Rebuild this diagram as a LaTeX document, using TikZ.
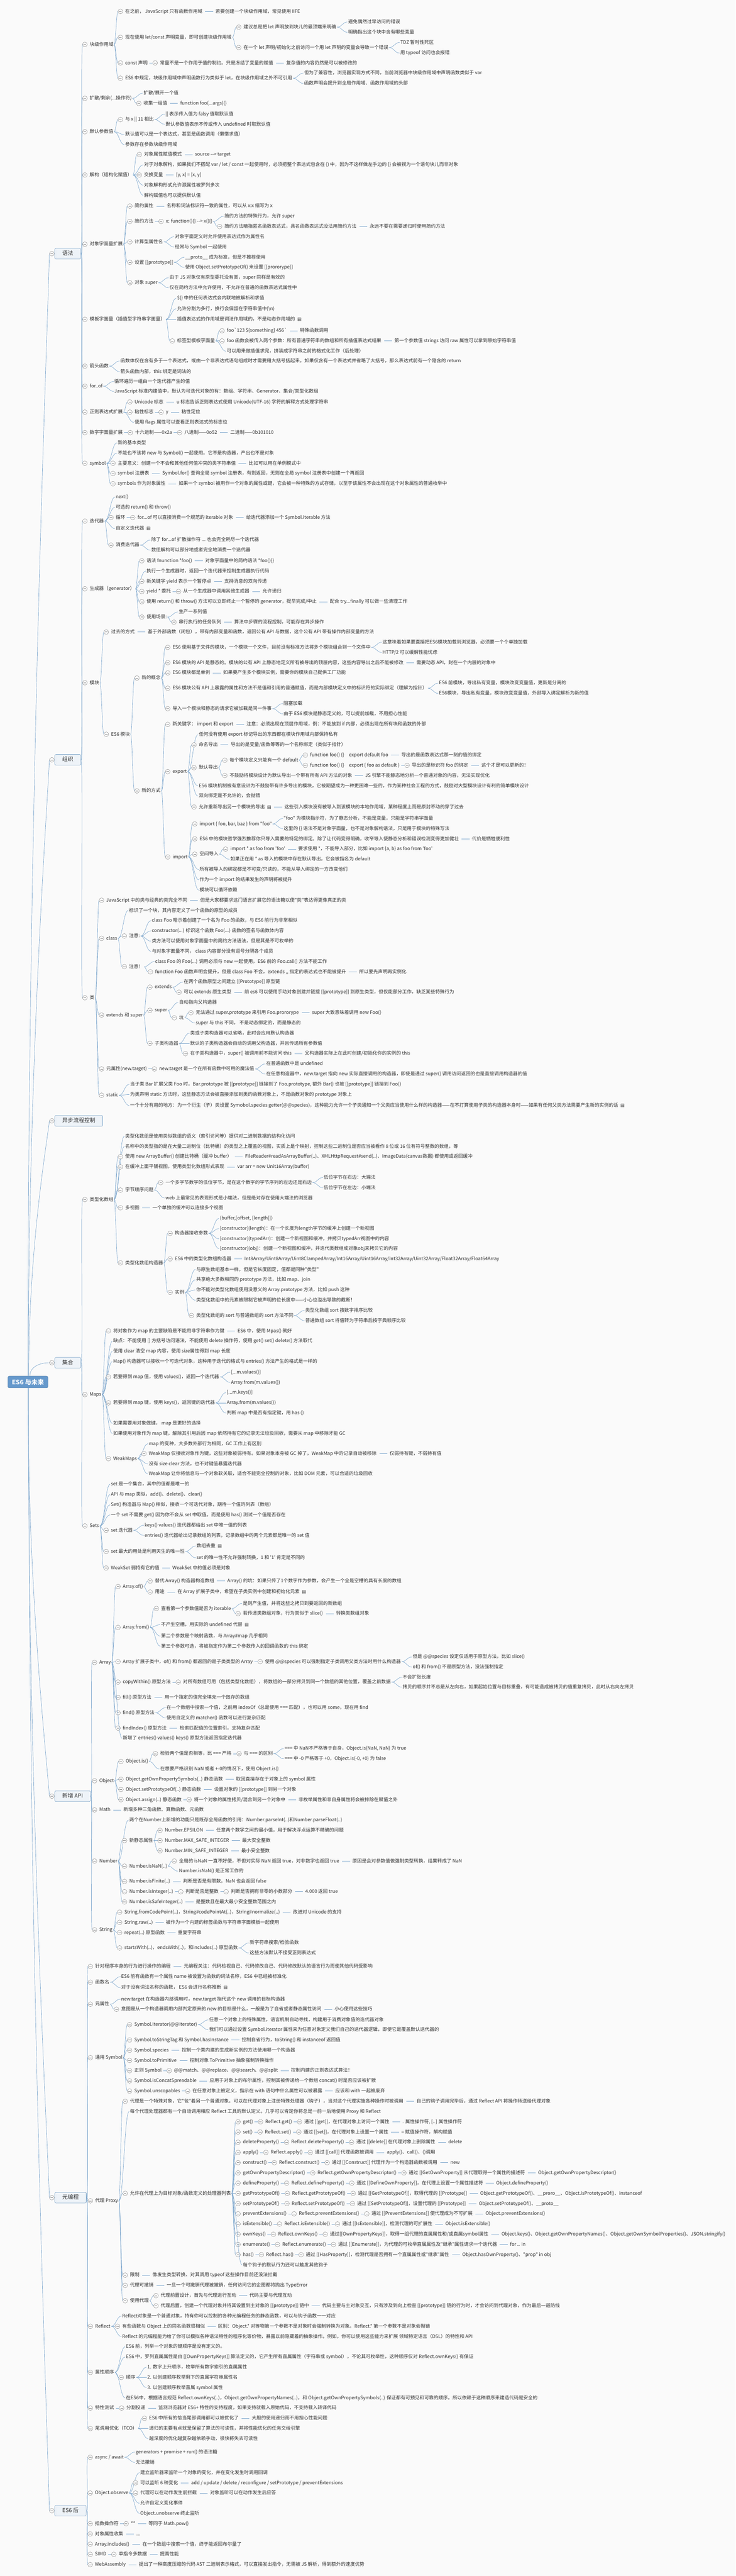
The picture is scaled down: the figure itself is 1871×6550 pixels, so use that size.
\documentclass[tikz,border=0pt]{standalone}
\usepackage{fontspec}
\newfontfamily\cjk{Noto Sans CJK SC}
\newfontfamily\symf{DejaVu Sans}
\definecolor{bgc}{HTML}{FAFAFA}
\definecolor{txtc}{HTML}{303030}
\definecolor{linec}{HTML}{82AACF}
\definecolor{circc}{HTML}{8C8C8C}
\definecolor{lonefill}{HTML}{EEF3F8}
\definecolor{lonebord}{HTML}{7FA6C9}
\definecolor{rootc}{HTML}{6699CC}
\tikzset{
 tx/.style={anchor=west, inner xsep=1pt, inner ysep=0pt, text height=10pt, text depth=2.5pt, font=\cjk\fontsize{12}{14}\selectfont, text=txtc},
 cc/.style={circle, draw=circc, fill=white, minimum size=12pt, inner sep=0pt, line width=0.7pt},
 cs/.style={draw=circc, line width=0.7pt},
 cn/.style={draw=linec, line width=0.9pt},
 lone/.style={anchor=west, draw=lonebord, fill=lonefill, rounded corners=3pt, line width=0.9pt, inner xsep=19pt, inner ysep=0pt, minimum height=27pt, text height=11pt, text depth=3pt, font=\cjk\fontsize{14}{16}\selectfont, text=txtc},
 rootbox/.style={draw=rootc!85!black, fill=rootc, rounded corners=4pt, text=white, font=\cjk\fontsize{16}{18}\selectfont\bfseries, minimum width=102pt, minimum height=30pt, inner sep=0pt, line width=0.8pt}
}
\newcommand\nt{\hspace{6pt}{\symf\fontsize{11}{11}\selectfont ▤}}
\newcommand\Mn[1]{\draw[cs] ([xshift=-3.2pt]#1.center) -- ([xshift=3.2pt]#1.center);}
\newcommand\Kl[5][28]{\node[tx,xshift=#1pt] (#3) at (#2.east |- 0,#4) {#5};
 \draw[cn] ([xshift=1pt]#2.east) .. controls +(12pt,0) and +(-12pt,0) .. ([xshift=-1pt]#3.west);}
\newcommand\Ko[5][28]{\node[tx,xshift=#1pt] (#3) at (#2.east |- 0,#4) {#5};
 \node[cc] (#3o) at ([xshift=-11pt]#3.west) {}; \Mn{#3o}
 \draw[cn] ([xshift=1pt]#2.east) .. controls +(4pt,0) and +(-4pt,0) .. (#3o.west);}
\newcommand\Il[3]{\node[tx,xshift=31pt] (#2) at (#1.east) {#3};
 \draw[cn] ([xshift=6pt]#1.east) -- ([xshift=-5pt]#2.west);}
\newcommand\Io[3]{\node[tx,xshift=29pt] (#2) at (#1.east) {#3};
 \node[cc] (#2o) at ([xshift=-11pt]#2.west) {}; \Mn{#2o}
 \draw[cn] ([xshift=3pt]#1.east) -- (#2o.west);}
\newcommand\Prow[6]{\Ko{px}{#1}{#2}{#3}\Io{#1}{#1r}{#4}\Io{#1r}{#1v}{#5}\Il{#1v}{#1p}{#6}}
\newcommand\Lone[3]{\node[lone] (#1) at (139,#2) {#3}; \node[cc] (#1o) at (132,#2) {}; \Mn{#1o}}
\begin{document}
\begin{tikzpicture}[x=1pt,y=-1pt]
\fill[bgc] (0,0) rectangle (1871,6550);
\useasboundingbox (0,0) rectangle (1871,6550);
% root and main branches
\node[rootbox] (root) at (71,3514) {ES6 与未来};
\Lone{A}{645}{语法}
\Lone{B}{1932}{组织}
\Lone{C}{2850}{异步流程控制}
\Lone{D}{3465}{集合}
\Lone{E}{4567}{新增 API}
\Lone{F}{5588}{元编程}
\Lone{G}{6384}{ES6 后}
\draw[cn] (root.north -| 71,0) .. controls (71,2072) and (118,930) .. (Ao.west);
\draw[cn] (root.north -| 72,0) .. controls (72,2715) and (118,2089) .. (Bo.west);
\draw[cn] (root.north -| 73,0) .. controls (73,3174) and (118,2915) .. (Co.west);
\draw[cn] (root.north -| 76,0) .. controls (76,3476) and (100,3465) .. (Do.west);
\draw[cn] (root.south -| 71,0) .. controls (71,4048) and (118,4463) .. (Eo.west);
\draw[cn] (root.south -| 72,0) .. controls (72,4558) and (118,5382) .. (Fo.west);
\draw[cn] (root.south -| 73,0) .. controls (73,4956) and (118,6098) .. (Go.west);
% ===== A 语法
\Ko[21]{A}{a1}{113}{块级作用域}
\Ko{a1}{a1a}{29}{在之前， JavaScript 只有函数作用域}
\Il{a1a}{a1a1}{若要创建一个块级作用域，常见使用 IIFE}
\Ko{a1}{a1b}{95}{现在使用 let/const 声明变量，即可创建块级作用域}
\Ko{a1b}{a1b1}{69}{建议总是把 let 声明放到块儿的最顶端来明确}
\Kl{a1b1}{a1b1a}{56}{避免偶然过早访问的错误}
\Kl{a1b1}{a1b1b}{82}{明确指出这个块中含有哪些变量}
\Ko{a1b}{a1b2}{121}{在一个 let 声明/初始化之前访问一个用 let 声明的变量会导致一个错误}
\Kl{a1b2}{a1b2a}{108}{TDZ 暂时性死区}
\Kl{a1b2}{a1b2b}{135}{用 typeof 访问也会报错}
\Ko{a1}{a1c}{160}{const 声明}
\Io{a1c}{a1c1}{常量不是一个作用于值的制约。只是冻结了变量的赋值}
\Il{a1c1}{a1c2}{复杂值的内容仍然是可以被修改的}
\Ko{a1}{a1d}{199}{ES6 中规定，块级作用域中声明函数行为类似于 let，在块级作用域之外不可引用}
\Kl{a1d}{a1d1}{186}{但为了兼容性，浏览器实现方式不同，当前浏览器中块级作用域中声明函数类似于 var}
\Kl{a1d}{a1d2}{212}{函数声明会提升到全局作用域、函数作用域的头部}
\Ko[21]{A}{a2}{250}{扩散/剩余(...操作符)}
\Kl{a2}{a2a}{237}{扩散/展开一个值}
\Ko{a2}{a2b}{263}{收集一组值}
\Il{a2b}{a2b1}{function foo(...args)\{\}}
\Ko[21]{A}{a3}{335}{默认参数值}
\Ko{a3}{a3a}{304}{与 x || 11 相比}
\Kl{a3a}{a3a1}{290}{|| 表示传入值为 falsy 值取默认值}
\Kl{a3a}{a3a2}{316}{默认参数值表示不传或传入 undefined 时取默认值}
\Kl{a3}{a3b}{342}{默认值可以是一个表达式，甚至是函数调用（懒惰求值）}
\Kl{a3}{a3c}{368}{参数存在参数块级作用域}
\Ko[21]{A}{a4}{445}{解构（结构化赋值）}
\Ko{a4}{a4a}{393}{对象属性赋值模式}
\Il{a4a}{a4a1}{source --> target}
\Kl{a4}{a4b}{419}{对于对象解构，如果我们不搭配 var / let / const 一起使用时，必须把整个表达式包含在 () 中，因为不这样做左手边的 \{\} 会被视为一个语句块儿而非对象}
\Ko{a4}{a4c}{445}{交换变量}
\Il{a4c}{a4c1}{[y, x] = [x, y]}
\Kl{a4}{a4d}{471}{对象解构形式允许源属性被罗列多次}
\Kl{a4}{a4e}{497}{解构赋值也可以提供默认值}
\Ko[21]{A}{a5}{621}{对象字面量扩展}
\Ko{a5}{a5a}{524}{简约属性}
\Il{a5a}{a5a1}{名称和词法标识符一致的属性，可以从 x:x 缩写为 x}
\Ko{a5}{a5b}{563}{简约方法}
\Io{a5b}{a5b1}{x: function()\{\} --> x()\{\}}
\Kl{a5b1}{a5b1a}{550}{简约方法的特殊行为，允许 super}
\Ko{a5b1}{a5b1b}{576}{简约方法暗指匿名函数表达式，具名函数表达式没法用简约方法}
\Il{a5b1b}{a5b1c}{永远不要在需要递归时使用简约方法}
\Ko{a5}{a5c}{615}{计算型属性名}
\Kl{a5c}{a5c1}{602}{对象字面定义时允许使用表达式作为属性名}
\Kl{a5c}{a5c2}{628}{经常与 Symbol 一起使用}
\Ko{a5}{a5d}{667}{设置 [[prototype]]}
\Kl{a5d}{a5d1}{654}{\_\_proto\_\_ 成为标准，但是不推荐使用}
\Kl{a5d}{a5d2}{680}{使用 Object.setPrototypeOf() 来设置 [[prororype]]}
\Ko{a5}{a5e}{719}{对象 super}
\Kl{a5e}{a5e1}{706}{由于 JS 对象仅有原型委托没有类，super 同样是有效的}
\Kl{a5e}{a5e2}{732}{仅在简约方法中允许使用，不允许在普通的函数表达式属性中}
\Ko[21]{A}{a6}{812}{模板字面量（插值型字符串字面量）}
\Kl{a6}{a6a}{758}{\$\{\} 中的任何表达式会内联地被解析和求值}
\Kl{a6}{a6b}{785}{允许分割为多行，换行会保留在字符串值中(\textbackslash n)}
\Kl{a6}{a6c}{812}{插值表达式的作用域是词法作用域的，不是动态作用域的\nt}
\Ko{a6}{a6d}{867}{标签型模板字面量}
\Ko{a6d}{a6d1}{841}{foo`123 \$\{something\} 456`}
\Il{a6d1}{a6d1a}{特殊函数调用}
\Ko{a6d}{a6d2}{867}{foo 函数会被传入两个参数：所有普通字符串的数组和所有插值表达式结果}
\Il{a6d2}{a6d2a}{第一个参数值 strings 访问 raw 属性可以拿到原始字符串值}
\Kl{a6d}{a6d3}{893}{可以用来做插值求完，拼装成字符串之前的格式化工作（后处理）}
\Ko[21]{A}{a7}{931}{箭头函数}
\Kl{a7}{a7a}{918}{函数体仅在含有多于一个表达式，或由一个非表达式语句组成时才需要用大括号括起来。如果仅含有一个表达式并省略了大括号，那么表达式前有一个隐含的 return}
\Kl{a7}{a7b}{945}{箭头函数内部，this 绑定是词法的}
\Ko[21]{A}{a8}{982}{for..of}
\Kl{a8}{a8a}{970}{循环遍历一组由一个迭代器产生的值}
\Kl{a8}{a8b}{995}{JavaScript 标准内建值中，默认为可迭代对象的有：数组、字符串、Generator、集合/类型化数组}
\Ko[21]{A}{a9}{1048}{正则表达式扩展}
\Ko{a9}{a9a}{1022}{Unicode 标志}
\Il{a9a}{a9a1}{u 标志告诉正则表达式使用 Unicode(UTF-16) 字符的解释方式处理字符串}
\Ko{a9}{a9b}{1048}{粘性标志}
\Io{a9b}{a9b1}{y}
\Il{a9b1}{a9b2}{粘性定位}
\Kl{a9}{a9c}{1074}{使用 flags 属性可以查看正则表达式的标志位}
\Ko[21]{A}{a10}{1100}{数字字面量扩展}
\Io{a10}{a10a}{十六进制——0x2a}
\Io{a10a}{a10b}{八进制——0o52}
\Il{a10b}{a10c}{二进制——0b101010}
\Ko[21]{A}{a11}{1178}{symbol}
\Kl{a11}{a11a}{1126}{新的基本类型}
\Kl{a11}{a11b}{1152}{不能也不该将 new 与 Symbol() 一起使用。它不是构造器，产出也不是对象}
\Ko{a11}{a11c}{1178}{主要意义：创建一个不会和其他任何值冲突的类字符串值}
\Il{a11c}{a11c1}{比如可以用在单例模式中}
\Ko{a11}{a11d}{1204}{symbol 注册表}
\Il{a11d}{a11d1}{Symbol.for() 查询全局 symbol 注册表，有则返回，无则在全局 symbol 注册表中创建一个再返回}
\Ko{a11}{a11e}{1230}{symbols 作为对象属性}
\Il{a11e}{a11e1}{如果一个 symbol 被用作一个对象的属性或键，它会被一种特殊的方式存储，以至于该属性不会出现在这个对象属性的普通枚举中}
% ===== B 组织
\Ko[21]{B}{b1}{1325}{迭代器}
\Kl{b1}{b1a}{1264}{next()}
\Kl{b1}{b1b}{1290}{可选的 return() 和 throw()}
\Ko{b1}{b1c}{1316}{循环}
\Io{b1c}{b1c1}{for...of 可以直接消费一个规范的 iterable 对象}
\Il{b1c1}{b1c2}{给迭代器添加一个 Symbol.iterable 方法}
\Kl{b1}{b1d}{1344}{自定义迭代器\nt}
\Ko{b1}{b1e}{1386}{消费迭代器}
\Kl{b1e}{b1e1}{1373}{除了 for...of 扩散操作符 ... 也会完全耗尽一个迭代器}
\Kl{b1e}{b1e2}{1399}{数组解构可以部分地或者完全地消费一个迭代器}
\Ko[21]{B}{b2}{1497}{生成器（generator）}
\Ko{b2}{b2a}{1426}{语法 fnunction *foo()}
\Il{b2a}{b2a1}{对象字面量中的简约语法 *foo()\{\}}
\Kl{b2}{b2b}{1452}{执行一个生成器时，返回一个迭代器来控制生成器执行代码}
\Ko{b2}{b2c}{1478}{新关键字 yield 表示一个暂停点}
\Il{b2c}{b2c1}{支持消息的双向传递}
\Ko{b2}{b2d}{1504}{yield * 委托}
\Io{b2d}{b2d1}{从一个生成器中调用其他生成器}
\Il{b2d1}{b2d2}{允许递归}
\Ko{b2}{b2e}{1530}{使用 return() 和 throw() 方法可以立即终止一个暂停的 generator，提早完成/中止}
\Il{b2e}{b2e1}{配合 try...finally 可以做一些清理工作}
\Ko{b2}{b2f}{1569}{使用场景:}
\Kl{b2f}{b2f1}{1556}{生产一系列值}
\Ko{b2f}{b2f2}{1582}{串行执行的任务队列}
\Il{b2f2}{b2f3}{算法中步骤的流程控制，可能存在异步操作}
\Ko[21]{B}{b3}{1736}{模块}
\Ko{b3}{b3a}{1607}{过去的方式}
\Il{b3a}{b3a1}{基于外部函数（闭包），带有内部变量和函数，返回公有 API 与数据，这个公有 API 带有操作内部变量的方法}
\Ko{b3}{b3b}{1867}{ES6 模块}
\Ko{b3b}{n1}{1724}{新的概念}
\Ko{n1}{n1a}{1646}{ES6 使用基于文件的模块，一个模块一个文件，目前没有标准方法将多个模块组合到一个文件中}
\Kl{n1a}{n1a1}{1633}{这意味着如果要直接把ES6模块加载到浏览器，必须要一个个单独加载}
\Kl{n1a}{n1a2}{1659}{HTTP/2 可以缓解性能忧虑}
\Ko{n1}{n1b}{1685}{ES6 模块的 API 是静态的。模块的公有 API 上静态地定义所有被导出的顶层内容，这些内容导出之后不能被修改}
\Il{n1b}{n1b1}{需要动态 API，封在一个内层的对象中}
\Ko{n1}{n1c}{1711}{ES6 模块都是单例}
\Il{n1c}{n1c1}{如果要产生多个模块实例，需要你的模块自己提供工厂功能}
\Ko{n1}{n1d}{1750}{ES6 模块公有 API 上暴露的属性和方法不是值和引用的普通赋值，而是内部模块定义中的标识符的实际绑定（理解为指针）}
\Kl{n1d}{n1d1}{1737}{ES6 前模块，导出私有变量，模块改变变量值，更新是分离的}
\Kl{n1d}{n1d2}{1763}{ES6模块，导出私有变量，模块改变变量值，外部导入绑定解析为新的值}
\Ko{n1}{n1e}{1802}{导入一个模块和静态的请求它被加载是同一件事}
\Kl{n1e}{n1e1}{1789}{阻塞加载}
\Kl{n1e}{n1e2}{1815}{由于 ES6 模块是静态定义的，可以提前加载，不用担心性能}
\Ko{b3b}{n2}{2011}{新的方式}
\Ko{n2}{n2a}{1842}{新关键字： import 和 export}
\Il{n2a}{n2a1}{注意：必须出现在顶层作用域，例：不能放到 if 内部，必须出现在所有块和函数的外部}
\Ko{n2}{ex}{1962}{export}
\Kl{ex}{ex1}{1868}{任何没有使用 export 标记导出的东西都在模块作用域内部保持私有}
\Ko{ex}{ex2}{1894}{命名导出}
\Il{ex2}{ex2a}{导出的是变量/函数等等的一个名称绑定（类似于指针）}
\Ko{ex}{ex3}{1952}{默认导出}
\Ko{ex3}{ex3a}{1933}{每个模块定义只能有一个 default}
\Ko{ex3a}{ex3a1}{1920}{function foo() \{\}\quad export default foo}
\Il{ex3a1}{ex3a2}{导出的是函数表达式那一刻的值的绑定}
\Ko{ex3a}{ex3a3}{1946}{function foo() \{\}\quad export \{ foo as default \}}
\Io{ex3a3}{ex3a4}{导出的是标识符 foo 的绑定}
\Il{ex3a4}{ex3a5}{这个才是可以更新的！}
\Ko{ex3}{ex3b}{1972}{不鼓励将模块设计为默认导出一个带有所有 API 方法的对象}
\Il{ex3b}{ex3b1}{JS 引擎不能静态地分析一个普通对象的内容，无法实现优化}
\Kl{ex}{ex4}{1998}{ES6 模块机制被有意设计为不鼓励带有许多导出的模块，它被期望成为一种更困难一些的，作为某种社会工程的方式，鼓励对大型模块设计有利的简单模块设计}
\Kl{ex}{ex5}{2024}{双向绑定是不允许的，会抛错}
\Ko{ex}{ex6}{2052}{允许重新导出另一个模块的导出\nt}
\Il{ex6}{ex6a}{这些引入模块没有被导入到该模块的本地作用域，某种程度上而是原封不动的穿了过去}
\Ko{n2}{im}{2179}{import}
\Ko{im}{im1}{2095}{import \{ foo, bar, baz \} from "foo"}
\Kl{im1}{im1a}{2081}{"foo" 为模块指示符，为了静态分析，不能是变量，只能是字符串字面量}
\Kl{im1}{im1b}{2107}{这里的 \{\} 语法不是对象字面量，也不是对象解构语法，只是用于模块的特殊写法}
\Ko{im}{im2}{2133}{ES6 中的模块哲学强烈推荐你只导入需要的特定的绑定。除了让代码变得明确，收窄导入使静态分析和错误检测变得更加健壮}
\Il{im2}{im2a}{代价是牺牲便利性}
\Ko{im}{im3}{2172}{空间导入}
\Ko{im3}{im3a}{2159}{import * as foo from 'foo'}
\Il{im3a}{im3a1}{要求使用 *，不能导入部分，比如 import \{a, b\} as foo from 'foo'}
\Kl{im3}{im3b}{2185}{如果正在用 * as 导入的模块中存在默认导出，它会被指名为 default}
\Kl{im}{im4}{2211}{所有被导入的绑定都是不可变/只读的，不能从导入绑定的一方改变他们}
\Kl{im}{im5}{2237}{作为一个 import 的结果发生的声明将被提升}
\Kl{im}{im6}{2263}{模块可以循环依赖}
\Ko[21]{B}{b4}{2537}{类}
\Ko{b4}{b4a}{2289}{JavaScript 中的类与经典的类完全不同}
\Il{b4a}{b4a1}{但是大家都要求这门语言扩展它的语法糖以使"类"表达得更像真正的类}
\Ko{b4}{b4b}{2386}{class}
\Kl{b4b}{b4b1}{2315}{标识了一个块，其内容定义了一个函数的原型的成员}
\Ko{b4b}{b4b2}{2380}{注意:}
\Kl{b4b2}{b4b2a}{2341}{class Foo 暗示着创建了一个名为 Foo 的函数，与 ES6 前行为非常相似}
\Kl{b4b2}{b4b2b}{2367}{constructor(...) 标识这个函数 Foo(...) 函数的签名与函数体内容}
\Kl{b4b2}{b4b2c}{2393}{类方法可以使用对象字面量中的简约方法语法，但是其是不可枚举的}
\Kl{b4b2}{b4b2d}{2419}{与对象字面量不同， class 内容部分没有逗号分隔各个成员}
\Ko{b4b}{b4b3}{2458}{注意！}
\Kl{b4b3}{b4b3a}{2445}{class Foo 的 Foo(...) 调用必须与 new 一起使用，ES6 前的 Foo.call() 方法不能工作}
\Ko{b4b3}{b4b3b}{2471}{function Foo 函数声明会提升，但是 class Foo 不会，extends ,, 指定的表达式也不能被提升}
\Il{b4b3b}{b4b3c}{所以要先声明再实例化}
\Ko{b4}{b4c}{2581}{extends 和 super}
\Ko{b4c}{b4c1}{2510}{extends}
\Kl{b4c1}{b4c1a}{2497}{在两个函数原型之间建立 [[Prototype]] 原型链}
\Ko{b4c1}{b4c1b}{2523}{可以 extends 原生类型}
\Il{b4c1b}{b4c1c}{前 es6 可以使用手动对象创建并链接 [[prototype]] 到原生类型，但仅能部分工作，缺乏某些特殊行为}
\Ko{b4c}{b4c2}{2569}{super}
\Kl{b4c2}{b4c2a}{2549}{自动指向父构造器}
\Ko{b4c2}{b4c2b}{2588}{坑}
\Ko{b4c2b}{b4c2c}{2575}{无法通过 super.prototype 来引用 Foo.prororype}
\Il{b4c2c}{b4c2d}{super 大致意味着调用 new Foo()}
\Kl{b4c2b}{b4c2e}{2601}{super 与 this 不同， 不是动态绑定的，而是静态的}
\Ko{b4c}{b4c3}{2653}{子类构造器}
\Kl{b4c3}{b4c3a}{2627}{类或子类构造器可以省略，此时会应用默认构造器}
\Kl{b4c3}{b4c3b}{2653}{默认的子类构造器会自动的调用父构造器，并且传递所有参数值}
\Ko{b4c3}{b4c3c}{2679}{在子类构造器中，super() 被调用前不能访问 this}
\Il{b4c3c}{b4c3d}{父构造器实际上在此时创建/初始化你的实例的 this}
\Ko{b4}{b4d}{2718}{元属性(new.target)}
\Io{b4d}{b4d1}{new.target 是一个在所有函数中可用的魔法值}
\Kl{b4d1}{b4d1a}{2705}{在普通函数中是 undefined}
\Kl{b4d1}{b4d1b}{2731}{在任意构造器中，new.target 指向 new 实际直接调用的构造器，即使是通过 super() 调用访问返回的也是直接调用构造器的值}
\Ko{b4}{b4e}{2785}{static}
\Kl{b4e}{b4e1}{2757}{当子类 Bar 扩展父类 Foo 时，Bar.prototype 被 [[prototype]] 链接到了 Foo.prototype, 额外 Bar() 也被 [[prototype]] 链接到 Foo()}
\Kl{b4e}{b4e2}{2783}{为类声明 static 方法时，这些静态方法会被直接添加到类的函数对象上，不是函数对象的 prototype 对象上}
\Kl{b4e}{b4e3}{2811}{一个十分有用的地方：为一个衍生（子）类设置 Symobol.species getter(@@species)，这种能力允许一个子类通知一个父类应当使用什么样的构造器——在不打算使用子类的构造器本身时——如果有任何父类方法需要产生新的实例的话\nt}
% ===== D 集合
\Ko[21]{D}{d1}{3050}{类型化数组}
\Kl{d1}{d1a}{2889}{类型化数组是使用类似数组的语义（索引访问等）提供对二进制数据的结构化访问}
\Kl{d1}{d1b}{2915}{名称中的类型指的是在大量二进制位（比特桶）的类型之上覆盖的视图，实质上是个映射，控制这些二进制位是否应当被看作 8 位或 16 位有符号整数的数组，等}
\Ko{d1}{d1c}{2941}{使用 new ArrayBuffer() 创建比特桶（缓冲 buffer）}
\Il{d1c}{d1c1}{FileReader\#readAsArrayBuffer(..)、XMLHttpRequest\#send(..)、ImageData(canvas数据) 都使用或返回缓冲}
\Ko{d1}{d1d}{2967}{在缓冲上面平铺视图，使用类型化数组形式表现}
\Il{d1d}{d1d1}{var arr = new Unit16Array(buffer)}
\Ko{d1}{d1e}{3026}{字节顺序问题}
\Ko{d1e}{d1e1}{3007}{一个多字节数字的低位字节，是在这个数字的字节序列的左边还是右边}
\Kl{d1e1}{d1e1a}{2994}{低位字节在右边：大端法}
\Kl{d1e1}{d1e1b}{3020}{低位字节在左边：小端法}
\Kl{d1e}{d1e2}{3046}{web 上最常见的表现形式是小端法，但是绝对存在使用大端法的浏览器}
\Ko{d1}{d1f}{3071}{多视图}
\Il{d1f}{d1f1}{一个单独的缓冲可以连接多个视图}
\Ko{d1}{d1g}{3211}{类型化数组构造器}
\Ko{d1g}{d1g1}{3136}{构造器接收参数}
\Kl{d1g1}{d1g1a}{3098}{(buffer,[offset, [length]])}
\Kl{d1g1}{d1g1b}{3124}{[constructor](length)：在一个长度为length字节的缓冲上创建一个新视图}
\Kl{d1g1}{d1g1c}{3150}{[constructor](typedArr)：创建一个新视图和缓冲，并拷贝typedArr视图中的内容}
\Kl{d1g1}{d1g1d}{3175}{[constructor](obj)：创建一个新视图和缓冲，并迭代类数组或对象obj来拷贝它的内容}
\Ko{d1g}{d1g2}{3201}{ES6 中的类型化数组构造器}
\Il{d1g2}{d1g2a}{Int8Array/Uint8Array/Uint8ClampedArray/Int16Array/Uint16Array/Int32Array/Uint32Array/Float32Array/Float64Array}
\Ko{d1g}{d1g3}{3286}{实例}
\Kl{d1g3}{d1g3a}{3228}{与原生数组基本一样，但是它长度固定，值都是同种"类型"}
\Kl{d1g3}{d1g3b}{3254}{共享绝大多数相同的 prototype 方法，比如 map、join}
\Kl{d1g3}{d1g3c}{3280}{你不能对类型化数组使用没意义的 Array.prototype 方法，比如 push 这种}
\Kl{d1g3}{d1g3d}{3306}{类型化数组中的元素被限制它被声明的位长度中——小心位溢出导致的截断！}
\Ko{d1g3}{d1g3e}{3345}{类型化数组的 sort 与普通数组的 sort 方法不同}
\Kl{d1g3e}{d1g3f}{3332}{类型化数组 sort 按数字排序比较}
\Kl{d1g3e}{d1g3g}{3358}{普通数组 sort 将值转为字符串后按字典顺序比较}
\Ko[21]{D}{d2}{3546}{Maps}
\Ko{d2}{d2a}{3384}{将对象作为 map 的主要缺陷是不能用非字符串作为键}
\Il{d2a}{d2a1}{ES6 中，使用 Mpas() 就好}
\Kl{d2}{d2b}{3410}{缺点：不能使用 [] 方括号访问语法，不能使用 delete 操作符，使用 get() set() delete() 方法取代}
\Kl{d2}{d2c}{3436}{使用 clear 清空 map 内容，使用 size属性得到 map 长度}
\Kl{d2}{d2d}{3462}{Map() 构造器可以接收一个可迭代对象，这种用于迭代的格式与 entries() 方法产生的格式是一样的}
\Ko{d2}{d2e}{3501}{若要得到 map 值，使用 values()，返回一个迭代器}
\Kl{d2e}{d2e1}{3489}{[...m.values()]}
\Kl{d2e}{d2e2}{3515}{Array.from(m.values())}
\Ko{d2}{d2f}{3567}{若要得到 map 键，使用 keys()，返回键的迭代器}
\Kl{d2f}{d2f1}{3541}{[...m.keys()]}
\Kl{d2f}{d2f2}{3567}{Array.from(m.values())}
\Kl{d2f}{d2f3}{3593}{判断 map 中是否有指定键，用 has ()}
\Kl{d2}{d2g}{3619}{如果需要用对象做键， map 是更好的选择}
\Kl{d2}{d2h}{3645}{如果使用对象作为 map 键，解除其引用后因 map 依然持有它的记录无法垃圾回收，需要从 map 中移除才能 GC}
\Ko{d2}{d2i}{3709}{WeakMaps}
\Kl{d2i}{d2i1}{3671}{map 的变种，大多数外部行为相同，GC 工作上有区别}
\Ko{d2i}{d2i2}{3696}{WeakMap 仅接收对象作为键，这些对象被弱持有。如果对象本身被 GC 掉了，WeakMap 中的记录自动被移除}
\Il{d2i2}{d2i3}{仅弱持有键，不弱持有值}
\Kl{d2i}{d2i4}{3722}{没有 size clear 方法，也不对键值暴露迭代器}
\Kl{d2i}{d2i5}{3748}{WeakMap 让你将信息与一个对象软关联，适合不能完全控制的对象，比如 DOM 元素，可以合适的垃圾回收}
\Ko[21]{D}{d3}{3880}{Sets}
\Kl{d3}{d3a}{3774}{set 是一个集合，其中的值都是唯一的}
\Kl{d3}{d3b}{3800}{API 与 map 类似，add()、delete()、clear()}
\Kl{d3}{d3c}{3826}{Set() 构造器与 Map() 相似，接收一个可迭代对象，期待一个值的列表（数组）}
\Kl{d3}{d3d}{3852}{一个 set 不需要 get() 因为你不会从 set 中取值。而是使用 has() 测试一个值是否存在}
\Ko{d3}{d3e}{3891}{set 迭代器}
\Kl{d3e}{d3e1}{3878}{keys() values() 迭代器都给出 set 中唯一值的列表}
\Kl{d3e}{d3e2}{3904}{entries() 迭代器给出记录数组的列表，记录数组中的两个元素都是唯一的 set 值}
\Ko{d3}{d3f}{3945}{set 最大的用处是利用天生的唯一性}
\Kl{d3f}{d3f1}{3931}{数组去重\nt}
\Kl{d3f}{d3f2}{3961}{set 的唯一性不允许强制转换，1 和 '1' 肯定是不同的}
\Ko{d3}{d3g}{3987}{WeakSet 弱持有它的值}
\Il{d3g}{d3g1}{WeakSet 中的值必须是对象}
% ===== E 新增 API
\Ko[21]{E}{e1}{4227}{Array}
\Ko{e1}{e1a}{4034}{Array.of()}
\Ko{e1a}{e1a1}{4020}{替代 Array() 构造器构造数组}
\Il{e1a1}{e1a2}{Array() 的坑：如果只传了1个数字作为参数，会产生一个全是空槽的具有长度的数组}
\Ko{e1a}{e1a3}{4048}{用途}
\Il{e1a3}{e1a4}{在 Array 扩展子类中，希望在子类实例中创建和初始化元素\nt}
\Ko{e1}{e1b}{4138}{Array.from()}
\Ko{e1b}{e1b1}{4090}{查看第一个参数值是否为 iterable}
\Kl{e1b1}{e1b1a}{4077}{是则产生值，并将这些之拷贝到要返回的新数组}
\Ko{e1b1}{e1b1b}{4103}{若传递类数组对象，行为类似于 slice()}
\Il{e1b1b}{e1b1c}{转换类数组对象}
\Kl{e1b}{e1b2}{4131}{不产生空槽，用实际的 undefined 代替\nt}
\Kl{e1b}{e1b3}{4160}{第二个参数是个映射函数，与 Array\#map 几乎相同}
\Kl{e1b}{e1b4}{4186}{第三个参数可选，将被指定作为第二个参数传入的回调函数的 this 绑定}
\Ko{e1}{e1c}{4225}{Array 扩展子类中，of() 和 from() 都返回的是子类类型的 Array}
\Io{e1c}{e1c1}{使用 @@species 可以强制指定子类调用父类方法时用什么构造器}
\Kl{e1c1}{e1c1a}{4213}{但是 @@species 设定仅适用于原型方法，比如 slice()}
\Kl{e1c1}{e1c1b}{4239}{of() 和 from() 不是原型方法，没法强制指定}
\Ko{e1}{e1d}{4277}{copyWithin() 原型方法}
\Io{e1d}{e1d1}{对所有数组可用（包括类型化数组），将数组的一部分拷贝到同一个数组的其他位置，覆盖之前数据}
\Kl{e1d1}{e1d1a}{4265}{不会扩张长度}
\Kl{e1d1}{e1d1b}{4290}{拷贝的顺序并不总是从左向右，如果起始位置与目标重叠，有可能造成被拷贝的值重复拷贝，此时从右向左拷贝}
\Ko{e1}{e1e}{4316}{fill() 原型方法}
\Il{e1e}{e1e1}{用一个指定的值完全填充一个既存的数组}
\Ko{e1}{e1f}{4355}{find() 原型方法}
\Kl{e1f}{e1f1}{4342}{在一个数组中搜索一个值，之前用 indexOf（总是使用 === 匹配），也可以用 some，现在用 find}
\Kl{e1f}{e1f2}{4368}{使用自定义的 matcher() 函数可以进行复杂匹配}
\Ko{e1}{e1g}{4394}{findIndex() 原型方法}
\Il{e1g}{e1g1}{检索匹配值的位置索引，支持复杂匹配}
\Kl{e1}{e1h}{4420}{新增了 entries() values() keys() 原型方法返回指定迭代器}
\Ko[21]{E}{e2}{4528}{Object}
\Ko{e2}{e2a}{4479}{Object.is()}
\Ko{e2a}{e2a1}{4459}{检验两个值是否相等，比 === 严格}
\Io{e2a1}{e2a2}{与 === 的区别}
\Kl{e2a2}{e2a3}{4446}{=== 中 NaN不严格等于自身，Object.is(NaN, NaN) 为 true}
\Kl{e2a2}{e2a4}{4472}{=== 中 -0 严格等于 +0，Object.is(-0, +0) 为 false}
\Kl{e2a}{e2a5}{4498}{在想要严格识别 NaN 或者 +-0的情况下，使用 Object.is()}
\Ko{e2}{e2b}{4524}{Object.getOwnPropertySymbols(..) 静态函数}
\Il{e2b}{e2b1}{取回直接存在于对象上的 symbol 属性}
\Ko{e2}{e2c}{4550}{Object.setPrototypeOf(..) 静态函数}
\Il{e2c}{e2c1}{设置对象的 [[prototype]] 到另一个对象}
\Ko{e2}{e2d}{4576}{Object.assign(..) 静态函数}
\Io{e2d}{e2d1}{将一个对象的属性拷贝/混合到另一个对象中}
\Il{e2d1}{e2d2}{非枚举属性和非自身属性将会被排除在赋值之外}
\Ko[21]{E}{e3}{4602}{Math}
\Il{e3}{e3a}{新增多种三角函数、算数函数、元函数}
\Ko[21]{E}{e4}{4732}{Number}
\Kl{e4}{e4a}{4628}{两个在Number上新增的功能只是既存全局函数的引用：Number.parseInt(..)和Number.parseFloat(..)}
\Ko{e4}{e4b}{4680}{新静态属性}
\Ko{e4b}{e4b1}{4654}{Number.EPSILON}
\Il{e4b1}{e4b2}{任意两个数字之间的最小值，用于解决浮点运算不精确的问题}
\Ko{e4b}{e4b3}{4680}{Number.MAX\_SAFE\_INTEGER}
\Il{e4b3}{e4b4}{最大安全整数}
\Ko{e4b}{e4b5}{4706}{Number.MIN\_SAFE\_INTEGER}
\Il{e4b5}{e4b6}{最小安全整数}
\Ko{e4}{e4c}{4745}{Number.isNaN(..)}
\Ko{e4c}{e4c1}{4732}{全局的 isNaN 一直不好使，不但对实际 NaN 返回 true，对非数字也返回 true}
\Il{e4c1}{e4c2}{原因是会对参数值做强制类型转换，结果转成了 NaN}
\Kl{e4c}{e4c3}{4758}{Number.isNaN() 是正常工作的}
\Ko{e4}{e4d}{4784}{Number.isFinite(..)}
\Il{e4d}{e4d1}{判断是否是有限数。NaN 也会返回 false}
\Ko{e4}{e4e}{4810}{Number.isInteger(..)}
\Io{e4e}{e4e1}{判断是否是整数}
\Io{e4e1}{e4e2}{判断是否拥有非零的小数部分}
\Il{e4e2}{e4e3}{4.000 返回 true}
\Ko{e4}{e4f}{4836}{Number.isSafeInteger(..)}
\Il{e4f}{e4f1}{是整数且在最大最小安全整数范围之内}
\Ko[21]{E}{e5}{4907}{String}
\Ko{e5}{e5a}{4862}{String.fromCodePoint(..)，String\#codePointAt(..)，String\#normalize(..)}
\Il{e5a}{e5a1}{改进对 Unicode 的支持}
\Ko{e5}{e5b}{4888}{String.raw(..)}
\Il{e5b}{e5b1}{被作为一个内建的标签函数与字符串字面模板一起使用}
\Ko{e5}{e5c}{4914}{repeat(..) 原型函数}
\Il{e5c}{e5c1}{重复字符串}
\Ko{e5}{e5d}{4953}{startsWith(..)，endsWith(..)，和includes(..) 原型函数}
\Kl{e5d}{e5d1}{4940}{新字符串搜索/检验函数}
\Kl{e5d}{e5d2}{4966}{这些方法默认不接受正则表达式}
% ===== F 元编程
\Ko[21]{F}{f1}{5000}{针对程序本身的行为进行操作的编程}
\Il{f1}{f1a}{元编程关注：代码检视自己、代码修改自己、代码修改默认的语言行为而使其他代码受影响}
\Ko[21]{F}{f2}{5040}{函数名}
\Kl{f2}{f2a}{5026}{ES6 前有函数有一个属性 name 被设置为函数的词法名称，ES6 中已经被标准化}
\Kl{f2}{f2b}{5054}{对于没有词法名称的函数， ES6 会进行名称推断\nt}
\Ko[21]{F}{f3}{5096}{元属性}
\Kl{f3}{f3a}{5083}{new.target 在构造器内部调用时，new.target 指代这个 new 调用的目标构造器}
\Ko{f3}{f3b}{5109}{意图是从一个构造器调用内部判定原来的 new 的目标是什么，一般是为了自省或者静态属性访问}
\Il{f3b}{f3c}{小心使用这些技巧}
\Ko[21]{F}{f4}{5232}{通用 Symbol}
\Ko{f4}{f4a}{5148}{Symbol.iterator(@@iterator)}
\Kl{f4a}{f4a1}{5136}{任意一个对象上的特殊属性，语言机制自动寻找，构建用于消费对象值的迭代器对象}
\Kl{f4a}{f4a2}{5161}{我们可以通过设置 Symbol.iterator 属性来为任意对象定义我们自己的迭代器逻辑，即便它是覆盖默认迭代器的}
\Ko{f4}{f4b}{5187}{Symbol.toStringTag 和 Symbol.hasInstance}
\Il{f4b}{f4b1}{控制自省行为，toString() 和 instanceof 返回值}
\Ko{f4}{f4c}{5213}{Symbol.species}
\Il{f4c}{f4c1}{控制一个类内建的生成新实例的方法使用哪一个构造器}
\Ko{f4}{f4d}{5239}{Symbol.toPrimitive}
\Il{f4d}{f4d1}{控制对象 ToPrimitive 抽象强制转换操作}
\Ko{f4}{f4e}{5265}{正则 Symbol}
\Io{f4e}{f4e1}{@@match、@@replace、@@search、@@split}
\Il{f4e1}{f4e2}{控制内建的正则表达式算法！}
\Ko{f4}{f4f}{5291}{Symbol.isConcatSpreadable}
\Il{f4f}{f4f1}{应用于对象上的布尔属性，控制其被传递给一个数组 concat() 时是否应该被扩散}
\Ko{f4}{f4g}{5317}{Symbol.unscopables}
\Io{f4g}{f4g1}{在任意对象上被定义，指示在 with 语句中什么属性可以被暴露}
\Il{f4g1}{f4g2}{应该和 with 一起被废弃}
\Ko[21]{F}{f5}{5596}{代理 Proxy}
\Ko{f5}{f5a}{5343}{代理是一个特殊对象，它"包"着另一个普通对象。可以在代理对象上注册特殊处理器（钩子），当对这个代理实施各种操作时被调用}
\Il{f5a}{f5a1}{自己的钩子调用完毕后，通过 Reflect API 将操作转送给代理对象}
\Kl{f5}{f5b}{5369}{每个代理处理器都有一个自动调用相应 Reflect 工具的默认定义。几乎可以肯定你将总是一前一后地使用 Proxy 和 Reflect}
\Ko{f5}{px}{5577}{允许在代理上为目标对象/函数定义的处理器列表}
\Prow{p1}{5395}{get()}{Reflect.get()}{通过 [[get]]，在代理对象上访问一个属性}{. 属性操作符, [..] 属性操作符}
\Prow{p2}{5421}{set()}{Reflect.set()}{通过 [[set]]，在代理对象上设置一个属性}{= 赋值操作符，解构赋值}
\Prow{p3}{5447}{deleteProperty()}{Reflect.deleteProperty()}{通过 [[delete]] 在代理对象上删除属性}{delete}
\Prow{p4}{5473}{apply()}{Reflect.apply()}{通过 [[call]] 代理函数被调用}{apply()、call()、()调用}
\Prow{p5}{5499}{construct()}{Reflect.construct()}{通过 [[Construct]] 代理作为一个构造器函数被调用}{new}
\Prow{p6}{5525}{getOwnPropertyDescriptor()}{Reflect.getOwnPropertyDescriptor()}{通过 [[GetOwnProperty]] 从代理取得一个属性的描述符}{Object.getOwnPropertyDescriptor()}
\Prow{p7}{5551}{defineProperty()}{Reflect.defineProperty()}{通过 [[DefineOwnProperty]]，在代理上设置一个属性描述符}{Object.defineProperty()}
\Prow{p8}{5577}{getPrototypeOf()}{Reflect.getPrototypeOf()}{通过 [[GetPrototypeOf]]，取得代理的 [[Prototype]]}{Object.getPrototypeOf()、\_\_proro\_\_、Object.isPrototypeOf()、instanceof}
\Prow{p9}{5603}{setPrototypeOf()}{Reflect.setPrototypeOf()}{通过 [[SetPrototypeOf]]，设置代理的 [[Prototype]]}{Object.setPrototypeOf()、\_\_proto\_\_}
\Prow{p10}{5629}{preventExtensions()}{Reflect.preventExtensions()}{通过 [[PreventExtensions]] 使代理成为不可扩展}{Object.preventExtensions()}
\Prow{p11}{5655}{isExtensible()}{Reflect.isExtensible()}{通过 [[IsExtensible]]，检测代理的可扩展性}{Object.isExtensible()}
\Prow{p12}{5681}{ownKeys()}{Reflect.ownKeys()}{通过[[OwnPropertyKeys]]，取得一组代理的直属属性和/或直属symbol属性}{Object.keys()、Object.getOwnPropertyNames()、Object.getOwnSymbolProperties()、JSON.stringify()}
\Prow{p13}{5707}{enumerate()}{Reflect.enumerate()}{通过 [[Enumerate]]，为代理的可枚举直属属性及"继承"属性请求一个迭代器}{for .. in}
\Prow{p14}{5733}{has()}{Reflect.has()}{通过 [[HasProperty]]，检测代理是否拥有一个直属属性或"继承"属性}{Object.hasOwnProperty()、"prop" in obj}
\Kl{px}{p15}{5759}{每个钩子的默认行为还可以触发其他钩子}
\Ko{f5}{f5c}{5785}{限制}
\Il{f5c}{f5c1}{像发生类型转换、对其调用 typeof 这些操作目前还没法拦截}
\Ko{f5}{f5d}{5811}{代理可撤销}
\Il{f5d}{f5d1}{一旦一个可撤销代理被撤销，任何访问它的企图都将抛出 TypeError}
\Ko{f5}{f5e}{5850}{使用代理}
\Ko{f5e}{f5e1}{5837}{代理前置设计，首先与代理进行互动}
\Il{f5e1}{f5e2}{代码主要与代理互动}
\Ko{f5e}{f5e3}{5863}{代理后置，创建一个代理对象并将其设置到主对象的 [[prototype]] 链中}
\Il{f5e3}{f5e4}{代码主要与主对象交互，只有涉及到向上检查 [[prototype]] 链的行为时，才会访问到代理对象，作为最后一道防线}
\Ko[21]{F}{f6}{5915}{Reflect}
\Kl{f6}{f6a}{5889}{Reflect对象是一个普通对象，持有你可以控制的各种元编程任务的静态函数，可以与钩子函数一一对应}
\Ko{f6}{f6b}{5915}{有些函数与 Object 上的同名函数很相似}
\Il{f6b}{f6b1}{区别：Object.* 对等物第一个参数不是对象时会强制转换为对象。Reflect.* 第一个参数不是对象会抛错}
\Kl{f6}{f6c}{5941}{Reflect 的元编程能力给了你可以模拟各种语法特性的程序化等价物，暴露以前隐藏着的抽象操作。例如，你可以使用这些能力来扩展 领域特定语言（DSL）的特性和 API}
\Ko[21]{F}{f7}{6032}{属性顺序}
\Kl{f7}{f7a}{5967}{ES6 前，列举一个对象的键顺序是没有定义的。}
\Kl{f7}{f7b}{5993}{ES6 中，罗列直属属性是由 [[OwnPropertyKeys]] 算法定义的，它产生所有直属属性（字符串或 symbol），不论其可枚举性，这种顺序仅对 Reflect.ownKeys() 有保证}
\Ko{f7}{f7c}{6045}{顺序}
\Kl{f7c}{f7c1}{6019}{1. 数字上升顺序，枚举所有数字索引的直属属性}
\Kl{f7c}{f7c2}{6045}{2. 以创建顺序枚举剩下的直属字符串属性名}
\Kl{f7c}{f7c3}{6071}{3. 以创建顺序枚举直属 symbol 属性}
\Kl{f7}{f7d}{6097}{在ES6中，根据语言规范 Reflect.ownKeys(..)，Object.getOwnPropertyNames(..)，和 Object.getOwnPropertySymbols(..) 保证都有可预见和可靠的顺序。所以依赖于这种顺序来建造代码是安全的}
\Ko[21]{F}{f8}{6123}{特性测试}
\Io{f8}{f8a}{分割投递}
\Il{f8a}{f8b}{监测浏览器对 ES6+ 特性的支持程度，如果支持就载入原始代码，不支持载入转译代码}
\Ko[21]{F}{f9}{6175}{尾调用优化（TCO）}
\Ko{f9}{f9a}{6149}{ES6 中所有的恰当尾部调用都可以被优化了}
\Il{f9a}{f9a1}{大胆的使用递归而不用担心性能问题}
\Kl{f9}{f9b}{6175}{递归的主要有点就是保留了算法的可读性，并将性能优化的任务交给引擎}
\Kl{f9}{f9c}{6201}{越深度的优化越复杂越依赖手动，很快将失去可读性}
% ===== G ES6 后
\Ko[21]{G}{g1}{6248}{async / await}
\Kl{g1}{g1a}{6235}{generators + promise + run() 的语法糖}
\Kl{g1}{g1b}{6261}{无法撤销}
\Ko[21]{G}{g2}{6339}{Object.observe}
\Kl{g2}{g2a}{6287}{建立监听器来监听一个对象的变化，并在变化发生时调用回调}
\Ko{g2}{g2b}{6313}{可以监听 6 种变化}
\Il{g2b}{g2b1}{add / update / delete / reconfigure / setPrototype / preventExtensions}
\Ko{g2}{g2c}{6339}{代理可以在动作发生前拦截}
\Il{g2c}{g2c1}{对象监听可以在动作发生后应答}
\Kl{g2}{g2d}{6365}{允许自定义变化事件}
\Kl{g2}{g2e}{6391}{Object.unobserve 终止监听}
\Ko[21]{G}{g3}{6417}{指数操作符}
\Io{g3}{g3a}{**}
\Il{g3a}{g3b}{等同于 Math.pow()}
\Ko[21]{G}{g4}{6443}{对象属性收集}
\Il{g4}{g4a}{...}
\Ko[21]{G}{g5}{6469}{Array.includes()}
\Il{g5}{g5a}{在一个数组中搜索一个值，终于能返回布尔量了}
\Ko[21]{G}{g6}{6495}{SIMD}
\Io{g6}{g6a}{单指令多数据}
\Il{g6a}{g6b}{提高性能}
\Ko[21]{G}{g7}{6521}{WebAssembly}
\Il{g7}{g7a}{提出了一种高度压缩的代码 AST 二进制表示格式，可以直接发出指令，无需被 JS 解析，得到额外的速度优势}
\end{tikzpicture}
\end{document}
